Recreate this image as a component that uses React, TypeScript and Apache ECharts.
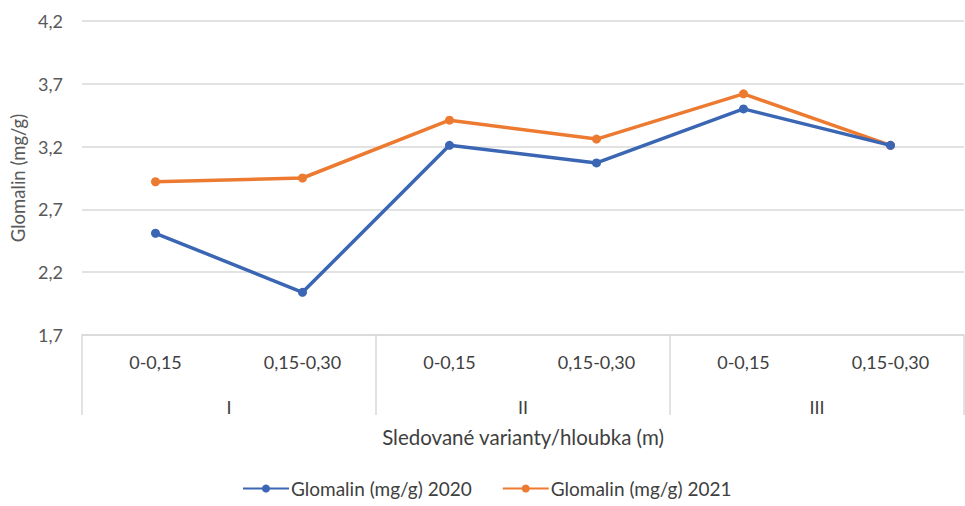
import React, { useEffect, useRef } from "react";
import * as echarts from "echarts";

const depths = ["0-0,15", "0,15-0,30", "0-0,15", "0,15-0,30", "0-0,15", "0,15-0,30"];
const groups = ["I", "II", "III"];
const glomalin2020 = [2.51, 2.04, 3.21, 3.07, 3.5, 3.21];
const glomalin2021 = [2.92, 2.95, 3.41, 3.26, 3.62, 3.21];
const yMin = 1.7;
const yMax = 4.2;
const yStep = 0.5;

const FONT = "Lato, 'Open Sans', sans-serif";

export default function App() {
  const ref = useRef<HTMLDivElement>(null);
  useEffect(() => {
    if (!ref.current) return;
    const chart = echarts.init(ref.current, undefined, { renderer: "svg" });
    chart.setOption({
      animation: false,
      backgroundColor: "#ffffff",
      textStyle: { fontFamily: FONT },
      grid: { left: 82, right: 1, top: 21, bottom: 171 },
      legend: {
        bottom: 3,
        left: 237,
        itemWidth: 46,
        itemHeight: 10,
        itemGap: 30,
        textStyle: { fontFamily: FONT, fontSize: 19, color: "#404040", padding: [0, 0, 0, -3] },
        data: ["Glomalin (mg/g) 2020", "Glomalin (mg/g) 2021"],
      },
      xAxis: [
        {
          type: "category",
          data: depths,
          position: "bottom",
          axisLine: { show: true, lineStyle: { color: "#d9d9d9", width: 1.5 } },
          axisTick: { show: false },
          axisLabel: { margin: 18, fontSize: 18, color: "#404040", fontFamily: FONT, interval: 0 },
          splitLine: { show: false },
        },
        {
          type: "category",
          data: groups,
          position: "bottom",
          axisLine: { show: false },
          axisTick: { show: true, length: 80, lineStyle: { color: "#d9d9d9", width: 1.5 } },
          axisLabel: { margin: 63, fontSize: 18, color: "#404040", fontFamily: FONT },
          splitLine: { show: false },
          name: "Sledované varianty/hloubka (m)",
          nameLocation: "middle",
          nameGap: 91,
          nameTextStyle: { fontSize: 20.5, color: "#404040", fontFamily: FONT },
        },
      ],
      yAxis: {
        type: "value",
        min: yMin,
        max: yMax,
        interval: yStep,
        axisLine: { show: false },
        axisTick: { show: false },
        axisLabel: {
          margin: 19,
          fontSize: 18,
          color: "#595959",
          fontFamily: FONT,
          formatter: (v: number) => v.toFixed(1).replace(".", ","),
        },
        splitLine: { show: true, lineStyle: { color: "#d9d9d9", width: 1.5 } },
        name: "Glomalin (mg/g)",
        nameLocation: "middle",
        nameGap: 55,
        nameRotate: 90,
        nameTextStyle: { fontSize: 18.5, color: "#595959", fontFamily: FONT },
      },
      series: [
        {
          name: "Glomalin (mg/g) 2020",
          type: "line",
          xAxisIndex: 0,
          data: glomalin2020,
          symbol: "circle",
          symbolSize: 9,
          lineStyle: { color: "#3a66b3", width: 3.5 },
          itemStyle: { color: "#3a66b3" },
          z: 3,
        },
        {
          name: "Glomalin (mg/g) 2021",
          type: "line",
          xAxisIndex: 0,
          data: glomalin2021,
          symbol: "circle",
          symbolSize: 9,
          lineStyle: { color: "#ec7b31", width: 3.5 },
          itemStyle: { color: "#ec7b31" },
          z: 2,
        },
      ],
    });
    return () => chart.dispose();
  }, []);
  return <div ref={ref} style={{ width: 965, height: 506, position: "absolute", left: 0, top: 0 }} />;
}
